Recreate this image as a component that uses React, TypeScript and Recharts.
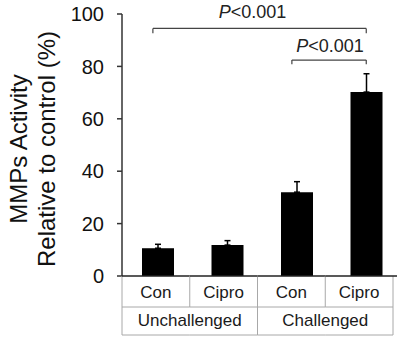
import React from 'react';
import { BarChart, Bar, XAxis, YAxis, ErrorBar, ReferenceLine } from 'recharts';

const categories = ['Con', 'Cipro', 'Con', 'Cipro'];
const groups = ['Unchallenged', 'Unchallenged', 'Challenged', 'Challenged'];
const values = [10.6, 11.8, 32, 70.2];
const errors = [1.5, 1.7, 4, 7];
const yTicks = [0, 20, 40, 60, 80, 100];
const yLabelLines = ['MMPs Activity', 'Relative to control (%)'];

// brackets: from/to are bar indices (with small offsets), y in data units
const bracketFrom = [-0.07, 1.93];
const bracketTo = [3, 3];
const bracketY = [94.5, 82.4];
const bracketLeg = [1.8, 1.6];
const bracketText = ['<0.001', '<0.001'];

const data = categories.map((c, i) => ({
  key: `${groups[i]}-${c}`,
  idx: i,
  cat: c,
  group: groups[i],
  value: values[i],
  err: [0, errors[i]],
}));

const FONT = '"Liberation Sans", Arial, sans-serif';
const COL_W = 67.75;
const ROW1 = 31;
const ROW2 = 28;
const TABLE_H = 60;
const GRID = '#a8a8a8';

const TableTick = (props: any) => {
  const { x, index } = props;
  const y = props.y - TABLE_H;
  const left = x - COL_W / 2;
  const right = left + COL_W;
  const d = data[index];
  const isGroupStart = index === 0 || groups[index] !== groups[index - 1];
  const isLast = index === data.length - 1;
  return (
    <g>
      <line x1={left} y1={y} x2={left} y2={y + (isGroupStart ? ROW1 + ROW2 : ROW1)} stroke={GRID} strokeWidth={1} />
      {isLast && <line x1={right} y1={y} x2={right} y2={y + ROW1 + ROW2} stroke={GRID} strokeWidth={1} />}
      <line x1={left} y1={y + ROW1} x2={right} y2={y + ROW1} stroke={GRID} strokeWidth={1} />
      <line x1={left} y1={y + ROW1 + ROW2} x2={right} y2={y + ROW1 + ROW2} stroke={GRID} strokeWidth={1} />
      <line x1={left} y1={y} x2={isLast ? right + 4 : right} y2={y} stroke="#222" strokeWidth={1.5} />
      <text x={x} y={y + 22.3} textAnchor="middle" fontSize={17} fill="#1a1a1a" fontFamily={FONT}>
        {d.cat}
      </text>
      {isGroupStart && (
        <text x={right} y={y + 50} textAnchor="middle" fontSize={17} fill="#1a1a1a" fontFamily={FONT}>
          {d.group}
        </text>
      )}
    </g>
  );
};

const YLabel = (props: any) => {
  const vb = props.viewBox || { x: 0, y: 14, width: 122, height: 262 };
  const cy = vb.y + vb.height / 2 + 4;
  return (
    <g>
      <text transform={`translate(${vb.x + 27},${cy}) rotate(-90)`} textAnchor="middle" fontSize={24} fill="#111" fontFamily={FONT}>
        {yLabelLines[0]}
      </text>
      <text transform={`translate(${vb.x + 55},${cy}) rotate(-90)`} textAnchor="middle" fontSize={24} fill="#111" fontFamily={FONT}>
        {yLabelLines[1]}
      </text>
    </g>
  );
};

const BracketLabel = (props: any) => {
  const { viewBox, dx, gap, text } = props;
  if (!viewBox) return null;
  const cx = viewBox.x + viewBox.width / 2 + dx;
  return (
    <text x={cx} y={viewBox.y - gap} textAnchor="middle" fontSize={18} fill="#222" fontFamily={FONT}>
      <tspan fontStyle="italic">P</tspan>
      {text}
    </text>
  );
};

const bracketDx = [-7, 1];
const bracketGap = [10, 8.3];

export default function App() {
  return (
    <div style={{ position: 'absolute', left: 0, top: 0 }}>
      <BarChart
        width={401}
        height={337}
        data={data}
        margin={{ top: 14, right: 0, bottom: 1, left: 0 }}
        style={{ fontFamily: FONT }}
      >
        <XAxis xAxisId="bar" dataKey="key" hide padding={{ left: 1, right: 0 }} />
        <XAxis
          xAxisId="tbl"
          dataKey="key"
          height={TABLE_H}
          axisLine={false}
          tickLine={false}
          tickSize={0}
          tickMargin={0}
          interval={0}
          padding={{ left: 0, right: 8 }}
          tick={<TableTick />}
        />
        <XAxis xAxisId="idx" type="number" dataKey="idx" domain={[-0.5, 3.5]} allowDataOverflow hide padding={{ left: 1, right: 0 }} />
        <YAxis
          width={122}
          domain={[0, 100]}
          ticks={yTicks}
          interval={0}
          tickSize={5}
          tickMargin={13}
          tick={{ fontSize: 20, fill: '#111', fontFamily: FONT }}
          axisLine={{ stroke: '#333', strokeWidth: 1.5 }}
          tickLine={{ stroke: '#333', strokeWidth: 1.5 }}
          label={<YLabel />}
        />
        <Bar xAxisId="bar" dataKey="value" fill="#000" barSize={32} isAnimationActive={false}>
          <ErrorBar dataKey="err" width={3} stroke="#000" strokeWidth={1.5} direction="y" />
        </Bar>
        {bracketY.map((by, i) => (
          <ReferenceLine
            key={`h${i}`}
            xAxisId="idx"
            ifOverflow="visible"
            segment={[{ x: bracketFrom[i], y: by }, { x: bracketTo[i], y: by }]}
            stroke="#444"
            strokeWidth={1.2}
            label={<BracketLabel dx={bracketDx[i]} gap={bracketGap[i]} text={bracketText[i]} />}
          />
        ))}
        {bracketY.map((by, i) => (
          <ReferenceLine
            key={`l${i}`}
            xAxisId="idx"
            ifOverflow="visible"
            segment={[{ x: bracketFrom[i], y: by }, { x: bracketFrom[i], y: by - bracketLeg[i] }]}
            stroke="#444"
            strokeWidth={1.2}
          />
        ))}
        {bracketY.map((by, i) => (
          <ReferenceLine
            key={`r${i}`}
            xAxisId="idx"
            ifOverflow="visible"
            segment={[{ x: bracketTo[i], y: by }, { x: bracketTo[i], y: by - bracketLeg[i] }]}
            stroke="#444"
            strokeWidth={1.2}
          />
        ))}
      </BarChart>
    </div>
  );
}
